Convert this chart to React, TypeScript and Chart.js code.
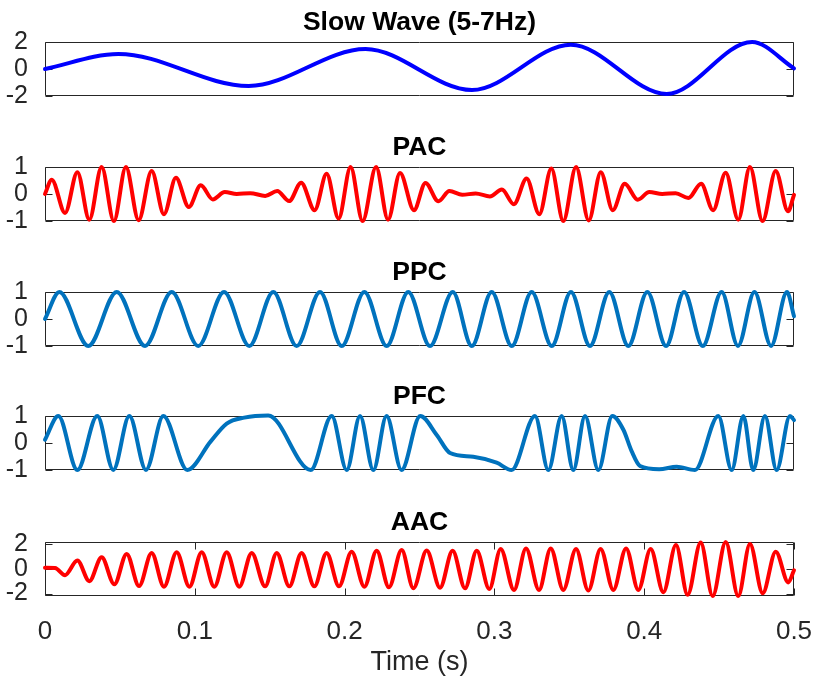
import React, { useEffect, useRef } from 'react';
import { Chart, registerables } from 'chart.js';

Chart.register(...registerables);

const FONT = '"Liberation Sans", Arial, Helvetica, sans-serif';
const AXIS_COLOR = '#262626';

// ---------------- data ----------------
const panelTitles = ['Slow Wave (5-7Hz)', 'PAC', 'PPC', 'PFC', 'AAC'];
const xLabel = 'Time (s)';
const timeTicks = [0, 0.1, 0.2, 0.3, 0.4, 0.5];
const timeTickLabels = ['0', '0.1', '0.2', '0.3', '0.4', '0.5'];
const unitTicks = [-1, 0, 1];
const unitTickLabels = ['-1', '0', '1'];
const wideTicks = [-2, 0, 2];
const wideTickLabels = ['-2', '0', '2'];

// Slow wave: start, extrema, end
const slowT = [0, 0.049, 0.136, 0.214, 0.285, 0.351, 0.415, 0.472, 0.5];
const slowV = [0, 1.12, -1.26, 1.48, -1.56, 1.8, -1.85, 2.0, 0.05];

// PAC: extrema of the modulated fast oscillation
const pacT = [0, 0.0045, 0.0134, 0.0216, 0.0296, 0.0378, 0.046, 0.054, 0.0625, 0.0712, 0.0794, 0.0874, 0.096, 0.104, 0.112, 0.12, 0.128, 0.137, 0.147, 0.155, 0.163, 0.171, 0.18, 0.188, 0.196, 0.204, 0.212, 0.221, 0.229, 0.237, 0.2463, 0.254, 0.2626, 0.27, 0.2785, 0.2875, 0.297, 0.305, 0.313, 0.3215, 0.33, 0.338, 0.346, 0.3545, 0.363, 0.371, 0.379, 0.387, 0.3957, 0.4034, 0.412, 0.421, 0.4295, 0.438, 0.446, 0.4544, 0.4628, 0.4706, 0.479, 0.4878, 0.496, 0.5];
const pacV = [0, 0.53, -0.7, 0.81, -0.95, 1.0, -1.0, 1.0, -0.97, 0.85, -0.75, 0.6, -0.48, 0.32, -0.2, 0.07, 0.0, 0.03, -0.07, 0.11, -0.26, 0.42, -0.6, 0.75, -0.91, 1.0, -1.0, 1.0, -0.95, 0.78, -0.6, 0.41, -0.27, 0.11, -0.03, 0.02, -0.09, 0.17, -0.38, 0.57, -0.75, 0.94, -1.0, 1.0, -0.98, 0.81, -0.6, 0.38, -0.21, 0.07, 0.0, 0.03, -0.15, 0.38, -0.6, 0.79, -0.95, 1.0, -1.0, 0.85, -0.64, -0.03];

// PPC: extrema of the chirping oscillation
const ppcT = [0, 0.0096, 0.0289, 0.0479, 0.0668, 0.0846, 0.1023, 0.1195, 0.1364, 0.1524, 0.168, 0.1836, 0.1981, 0.2132, 0.2281, 0.2425, 0.257, 0.2722, 0.2849, 0.2982, 0.3116, 0.3249, 0.3383, 0.3511, 0.3638, 0.3767, 0.3894, 0.4021, 0.4146, 0.4266, 0.4391, 0.4517, 0.4626, 0.4736, 0.4847, 0.4953, 0.5];
const ppcV = [0, 1, -1, 1, -1, 1, -1, 1, -1, 1, -1, 1, -1, 1, -1, 1, -1, 1, -1, 1, -1, 1, -1, 1, -1, 1, -1, 1, -1, 1, -1, 1, -1, 1, -1, 1, 0.1];

// PFC: bursts, plateaus and shelves
const pfcT = [0, 0.0089, 0.0216, 0.0349, 0.0456, 0.0563, 0.0674, 0.079, 0.095, 0.1105, 0.1213, 0.133, 0.149, 0.1774, 0.1914, 0.2014, 0.2103, 0.2192, 0.228, 0.238, 0.2505, 0.2615, 0.2704, 0.2859, 0.3015, 0.3115, 0.3271, 0.336, 0.3449, 0.3527, 0.3605, 0.3694, 0.3787, 0.3861, 0.3916, 0.3972, 0.41, 0.4217, 0.4339, 0.4495, 0.4584, 0.4662, 0.4728, 0.4806, 0.4884, 0.4973, 0.5];
const pfcV = [0.12, 1, -1, 1, -1, 1, -1, 1, -1, 0.05, 0.72, 0.94, 1.02, -1, 1, -1, 1, -1, 1, -1, 1, 0.3, -0.37, -0.51, -0.73, -1, 1, -1, 1, -1, 1, -1, 1, 0.49, -0.3, -0.85, -0.97, -0.88, -1, 1, -1, 1, -1, 1, -1, 1, 0.85];

// AAC: extrema of the growing fast oscillation
const aacT = [0, 0.0067, 0.0134, 0.0216, 0.0296, 0.0378, 0.0463, 0.0545, 0.0628, 0.0712, 0.0794, 0.0879, 0.0964, 0.1046, 0.113, 0.1213, 0.1297, 0.138, 0.1469, 0.1547, 0.1631, 0.1713, 0.1798, 0.188, 0.1963, 0.2047, 0.2132, 0.2214, 0.2296, 0.2381, 0.2459, 0.2548, 0.2637, 0.2721, 0.2804, 0.2882, 0.2966, 0.3042, 0.3131, 0.3211, 0.3298, 0.3376, 0.346, 0.3545, 0.3627, 0.3709, 0.3794, 0.3879, 0.3961, 0.4043, 0.4128, 0.4212, 0.429, 0.4377, 0.4457, 0.4544, 0.4628, 0.4706, 0.4791, 0.4878, 0.4962, 0.5];
const aacV = [0.1, 0.08, -0.5, 0.69, -0.99, 0.96, -1.25, 1.23, -1.39, 1.31, -1.44, 1.36, -1.44, 1.36, -1.44, 1.36, -1.44, 1.31, -1.41, 1.31, -1.41, 1.31, -1.41, 1.31, -1.41, 1.41, -1.44, 1.49, -1.49, 1.55, -1.57, 1.5, -1.52, 1.49, -1.57, 1.49, -1.63, 1.63, -1.71, 1.68, -1.71, 1.68, -1.71, 1.63, -1.76, 1.63, -1.71, 1.68, -1.71, 1.63, -1.89, 1.95, -2.1, 2.16, -2.2, 2.2, -2.2, 2.03, -1.97, 1.41, -1.09, -0.1];

// ---------------- layout ----------------
type PanelSpec = {
  title: string;
  t: number[];
  v: number[];
  color: string;
  yTicks: number[];
  yTickLabels: string[];
  yMin: number;
  yMax: number;
  boxTop: number;
  bottom: boolean;
};

const panels: PanelSpec[] = [
  { title: panelTitles[0], t: slowT, v: slowV, color: '#0000FF', yTicks: wideTicks, yTickLabels: wideTickLabels, yMin: -2, yMax: 2, boxTop: 42, bottom: false },
  { title: panelTitles[1], t: pacT, v: pacV, color: '#FF0000', yTicks: unitTicks, yTickLabels: unitTickLabels, yMin: -1, yMax: 1, boxTop: 167, bottom: false },
  { title: panelTitles[2], t: ppcT, v: ppcV, color: '#0072BD', yTicks: unitTicks, yTickLabels: unitTickLabels, yMin: -1, yMax: 1, boxTop: 292, bottom: false },
  { title: panelTitles[3], t: pfcT, v: pfcV, color: '#0072BD', yTicks: unitTicks, yTickLabels: unitTickLabels, yMin: -1, yMax: 1, boxTop: 416, bottom: false },
  { title: panelTitles[4], t: aacT, v: aacV, color: '#FF0000', yTicks: wideTicks, yTickLabels: wideTickLabels, yMin: -2.2, yMax: 2.2, boxTop: 542, bottom: true },
];

const TITLE_SPACE = 42;
const BOX_H = 54;
const TICK_LEN = 7;

function makeFramePlugin(showX: boolean) {
  return {
    id: 'matlabFrame',
    beforeDatasetsDraw(chart: any) {
      const { ctx, chartArea: a, scales } = chart;
      const L = Math.round(a.left) + 0.5;
      const R = Math.round(a.right) - 0.5;
      const T = Math.round(a.top) + 0.5;
      const B = Math.round(a.bottom) - 0.5;
      ctx.save();
      ctx.strokeStyle = AXIS_COLOR;
      ctx.lineWidth = 1;
      ctx.beginPath();
      ctx.rect(L, T, R - L, B - T);
      for (const tk of scales.y.ticks) {
        const y = Math.round(scales.y.getPixelForValue(tk.value)) + 0.5;
        ctx.moveTo(L, y);
        ctx.lineTo(L + TICK_LEN, y);
        ctx.moveTo(R, y);
        ctx.lineTo(R - TICK_LEN, y);
      }
      if (showX) {
        for (const tk of scales.x.ticks) {
          const x = Math.round(scales.x.getPixelForValue(tk.value)) + 0.5;
          ctx.moveTo(x, B);
          ctx.lineTo(x, B - TICK_LEN);
          ctx.moveTo(x, T);
          ctx.lineTo(x, T + TICK_LEN);
        }
      }
      ctx.stroke();
      ctx.restore();
    },
  };
}

function Panel({ spec }: { spec: PanelSpec }) {
  const ref = useRef<HTMLCanvasElement>(null);
  const height = spec.bottom ? 179 : TITLE_SPACE + BOX_H + 16;

  useEffect(() => {
    const canvas = ref.current;
    if (!canvas) return;
    const chart = new Chart(canvas, {
      type: 'line',
      data: {
        datasets: [
          {
            data: spec.t.map((t, i) => ({ x: t, y: spec.v[i] })),
            borderColor: spec.color,
            backgroundColor: spec.color,
            borderWidth: 4,
            pointRadius: 0,
            pointHoverRadius: 0,
            cubicInterpolationMode: 'monotone',
            capBezierPoints: false,
            clip: false,
            borderJoinStyle: 'round',
            borderCapStyle: 'round',
            fill: false,
          } as any,
        ],
      },
      options: {
        responsive: false,
        animation: false,
        events: [],
        layout: { padding: { left: 0, right: 21, top: 0, bottom: spec.bottom ? 0 : 16 } },
        plugins: {
          legend: { display: false },
          tooltip: { enabled: false },
          title: {
            display: true,
            text: spec.title,
            color: '#000000',
            fullSize: false,
            font: { family: FONT, size: 26.5, weight: 'bold' },
            padding: { top: 6.4, bottom: 3.8 },
          },
        },
        scales: {
          x: {
            type: 'linear',
            min: 0,
            max: 0.5,
            display: spec.bottom,
            grid: { display: false },
            border: { display: false },
            afterBuildTicks: (s: any) => {
              s.ticks = timeTicks.map((v) => ({ value: v }));
            },
            afterFit: (s: any) => {
              s.paddingLeft = 0;
              s.paddingRight = 0;
              s.height = spec.bottom ? 83 : 0;
            },
            ticks: {
              autoSkip: false,
              maxRotation: 0,
              padding: 12,
              color: AXIS_COLOR,
              font: { family: FONT, size: 26 },
              callback: (_v: any, i: number) => timeTickLabels[i],
            },
            title: {
              display: true,
              text: xLabel,
              color: AXIS_COLOR,
              font: { family: FONT, size: 27 },
              padding: { top: 0, bottom: 0 },
            },
          },
          y: {
            type: 'linear',
            min: spec.yMin,
            max: spec.yMax,
            grid: { display: false },
            border: { display: false },
            afterBuildTicks: (s: any) => {
              s.ticks = spec.yTicks.map((v) => ({ value: v }));
            },
            afterFit: (s: any) => {
              s.paddingTop = 0;
              s.paddingBottom = 0;
              s.width = 45;
            },
            ticks: {
              autoSkip: false,
              padding: 9,
              color: AXIS_COLOR,
              font: { family: FONT, size: 25 },
              callback: (_v: any, i: number) => spec.yTickLabels[i],
            },
          },
        },
      } as any,
      plugins: [makeFramePlugin(spec.bottom)],
    });
    return () => chart.destroy();
  }, []);

  return (
    <canvas
      ref={ref}
      width={815}
      height={height}
      style={{ position: 'absolute', left: 0, top: spec.boxTop - TITLE_SPACE, width: 815, height, display: 'block' }}
    />
  );
}

export default function App() {
  return (
    <div style={{ position: 'fixed', left: 0, top: 0, width: 815, height: 679, overflow: 'hidden', background: '#ffffff' }}>
      {panels.map((p) => (
        <Panel key={p.title} spec={p} />
      ))}
    </div>
  );
}
